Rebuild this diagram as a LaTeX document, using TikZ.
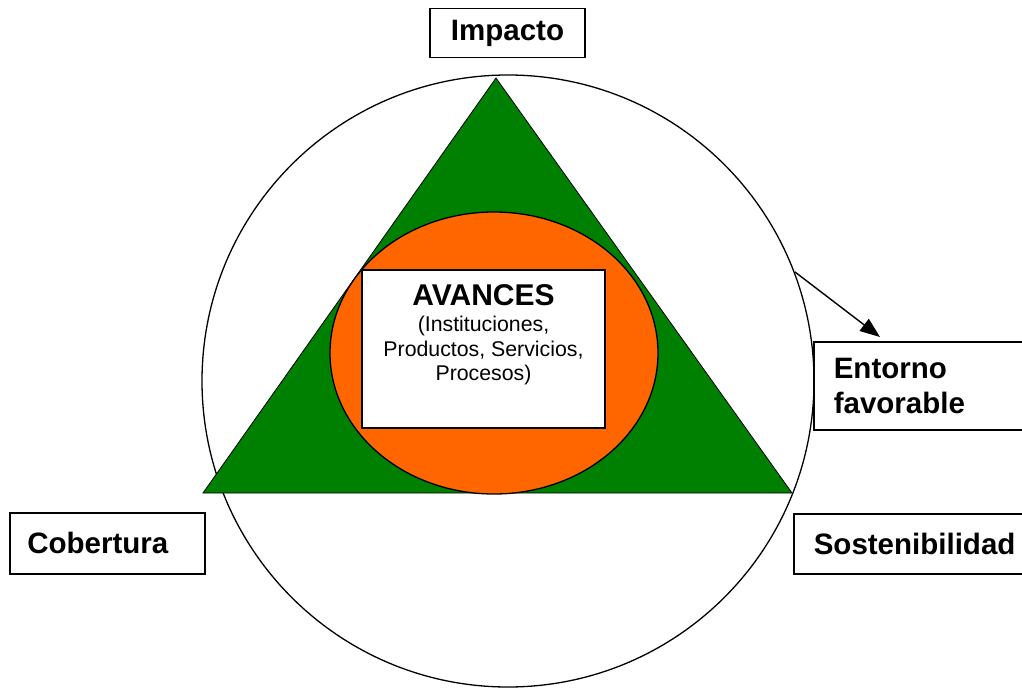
\documentclass[tikz,border=0pt]{standalone}
\usepackage{fontspec}
\setmainfont{Liberation Sans}
\usetikzlibrary{arrows.meta}
\definecolor{tgreen}{HTML}{008000}
\definecolor{torange}{HTML}{FF6600}
\begin{document}
\begin{tikzpicture}[x=1pt,y=-1pt,
  lbox/.style={draw=black, line width=1.6pt, fill=white, inner sep=0pt,
    font=\fontsize{29.5}{35}\selectfont\bfseries},
  arr/.style={line width=1.4pt, -{Triangle[length=20pt,width=15pt]}}]
\useasboundingbox (0,0) rectangle (1022,688);
% outer circle
\draw[line width=1.3pt] (508,381) circle [radius=306pt];
% triangle
\draw[fill=tgreen, line width=0.8pt] (496,78) -- (203,493) -- (792,493) -- cycle;
% ellipse
\draw[fill=torange, line width=1.3pt] (494,353) ellipse [x radius=164pt, y radius=141pt];
% central box
\node[draw=black, line width=1.3pt, fill=white, minimum width=243pt, minimum height=158pt, inner sep=0pt] (avbox) at (483.5,349) {};
\node[anchor=north, align=center, inner sep=0pt, font=\fontsize{21.3}{24.5}\selectfont] (avtext) at (483.5,284)
  {{\fontsize{30}{30}\selectfont\bfseries AVANCES}\\[2pt](Instituciones,\\Productos, Servicios,\\Procesos)};
% label boxes
\node[lbox, minimum width=155pt, minimum height=49pt] (imp) at (507.5,33) {Impacto};
\node[lbox, anchor=north west, minimum width=195pt, minimum height=61pt, text width=160pt, align=left] (cob) at (9,512) {Cobertura};
\node[lbox, anchor=north west, minimum width=240pt, minimum height=60pt, text width=200pt, align=left] (sos) at (793,513) {Sostenibilidad};
\node[lbox, anchor=north west, minimum width=240pt, minimum height=88pt, text width=200pt, align=left] (ent) at (813,341) {Entorno\\favorable};
% arrow
\coordinate (cpt) at (795,272);
\draw[arr] (cpt) -- (880,337);
\end{tikzpicture}
\end{document}
